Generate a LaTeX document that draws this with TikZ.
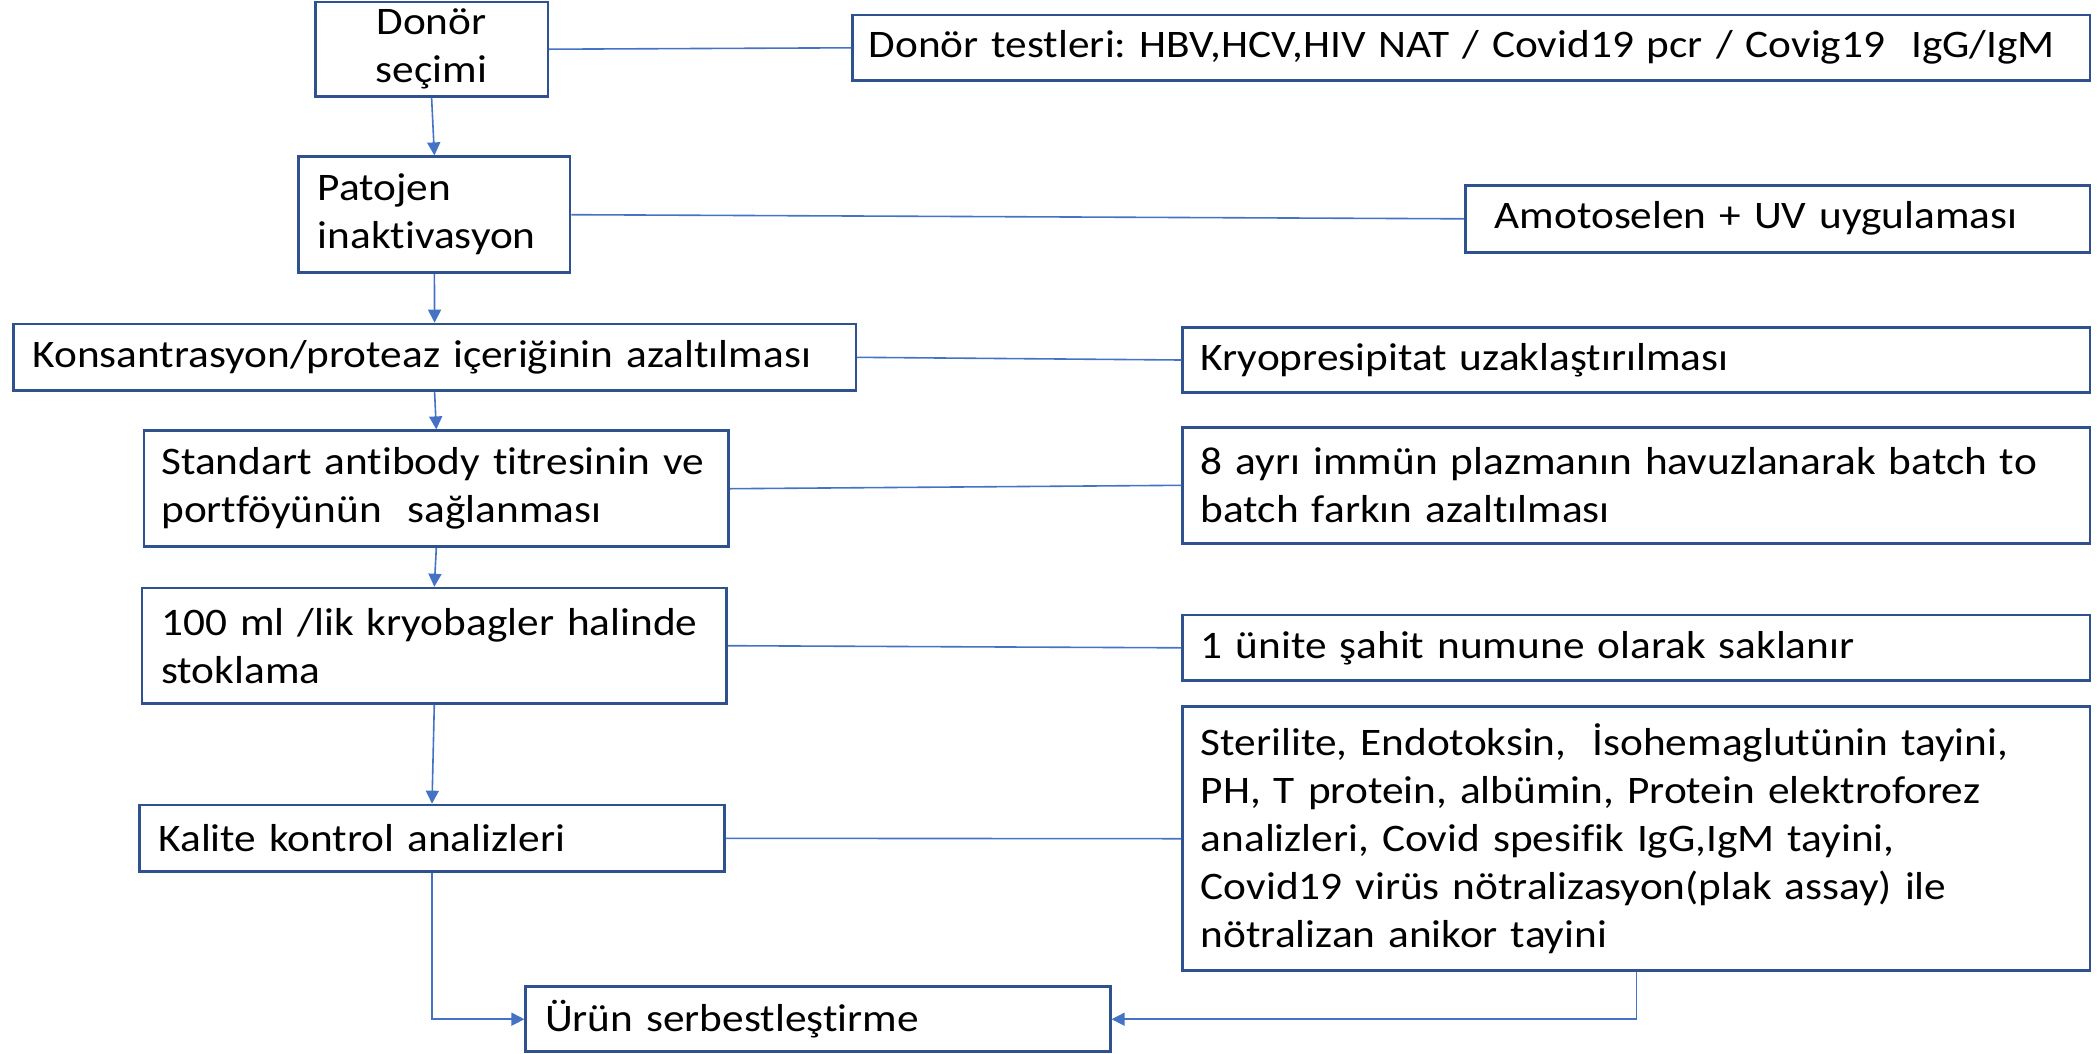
\documentclass[tikz,border=0pt]{standalone}
\usepackage{fontspec}
\setmainfont[FakeStretch=1.11,Ligatures=NoCommon]{Carlito}
\usetikzlibrary{arrows.meta}
\definecolor{boxline}{HTML}{2F528F}
\definecolor{conn}{HTML}{4472C4}
\newcommand{\boxfont}{\fontsize{39}{48}\selectfont\frenchspacing\spaceskip=7.5pt plus 1pt minus 1pt\relax}
\begin{document}
\begin{tikzpicture}[x=1pt,y=-1pt,
  box/.style={draw=boxline,line width=2.6pt,fill=white,inner xsep=19pt,inner ysep=0pt,
    align=left,font=\boxfont},
  cbox/.style={box,align=center},
  link/.style={draw=conn,line width=1.6pt},
  arr/.style={link,-{Triangle[length=13pt,width=13pt]}}]
\useasboundingbox (0,0) rectangle (2100,1053);
% left column
\node[cbox,minimum width=232.4pt,minimum height=94.3pt,text width=194pt] (don) at (431.6,49.2) {Donör\\seçimi};
\node[box,minimum width=271.3pt,minimum height=116pt,text width=233pt] (pat) at (434.4,214.7) {Patojen\\inaktivasyon};
\node[box,minimum width=842.4pt,minimum height=66.7pt,text width=804pt] (kon) at (434.6,357.3) {Konsantrasyon/proteaz içeriğinin azaltılması};
\node[box,inner xsep=17pt,minimum width=584.6pt,minimum height=116pt,text width=550pt] (std) at (436.3,488.7) {Standart antibody titresinin ve\\portföyünün~ sağlanması};
\node[box,minimum width=584.6pt,minimum height=115.3pt,text width=546pt] (ml) at (434.3,645.7) {100 ml /lik kryobagler halinde\\stoklama};
\node[box,minimum width=585.3pt,minimum height=66.7pt,text width=547pt] (kal) at (432,838.3) {Kalite kontrol analizleri};
\node[box,minimum width=584.6pt,minimum height=65pt,text width=546pt] (urun) at (818,1019.2) {Ürün serbestleştirme};
% right column
\node[box,inner xsep=16pt,minimum width=1237.5pt,minimum height=65.7pt,text width=1205pt] (tst) at (1471.3,47.8) {Donör testleri: HBV,HCV,HIV NAT / Covid19 pcr / Covig19~ IgG/IgM};
\node[box,inner xsep=29pt,minimum width=624.8pt,minimum height=67pt,text width=566pt] (amo) at (1777.6,218.8) {Amotoselen + UV uygulaması};
\node[box,inner xsep=18pt,minimum width=907.4pt,minimum height=65.4pt,text width=871pt] (kry) at (1636.3,360) {Kryopresipitat uzaklaştırılması};
\node[box,inner xsep=18pt,minimum width=907.4pt,minimum height=116pt,text width=871pt] (ayr) at (1636.3,485.3) {8 ayrı immün plazmanın havuzlanarak batch to\\batch farkın azaltılması};
\node[box,inner xsep=18pt,minimum width=907.4pt,minimum height=65.7pt,text width=871pt] (uni) at (1636.3,647.8) {1 ünite şahit numune olarak saklanır};
\node[box,inner xsep=18pt,minimum width=907.4pt,minimum height=264pt,text width=871pt] (ste) at (1636.3,838.7) {Sterilite, Endotoksin,~ İsohemaglutünin tayini,\\PH, T protein, albümin, Protein elektroforez\\analizleri, Covid spesifik IgG,IgM tayini,\\Covid19 virüs nötralizasyon(plak assay) ile\\nötralizan anikor tayini};
% horizontal links
\draw[link] (don.east) -- (tst.west);
\draw[link] (pat.east) -- (amo.west);
\draw[link] (kon.east) -- (kry.west);
\draw[link] (std.east) -- (ayr.west);
\draw[link] (ml.east) -- (uni.west);
\draw[link] (kal.east) -- (ste.west);
% vertical arrows
\draw[arr] (don.south) -- (pat.north);
\draw[arr] (pat.south) -- (kon.north);
\draw[arr] (kon.south) -- (std.north);
\draw[arr] (std.south) -- (ml.north);
\draw[arr] (ml.south) -- (kal.north);
\draw[arr] (kal.south) |- (urun.west);
\draw[arr] (ste.south) |- (urun.east);
\end{tikzpicture}
\end{document}
